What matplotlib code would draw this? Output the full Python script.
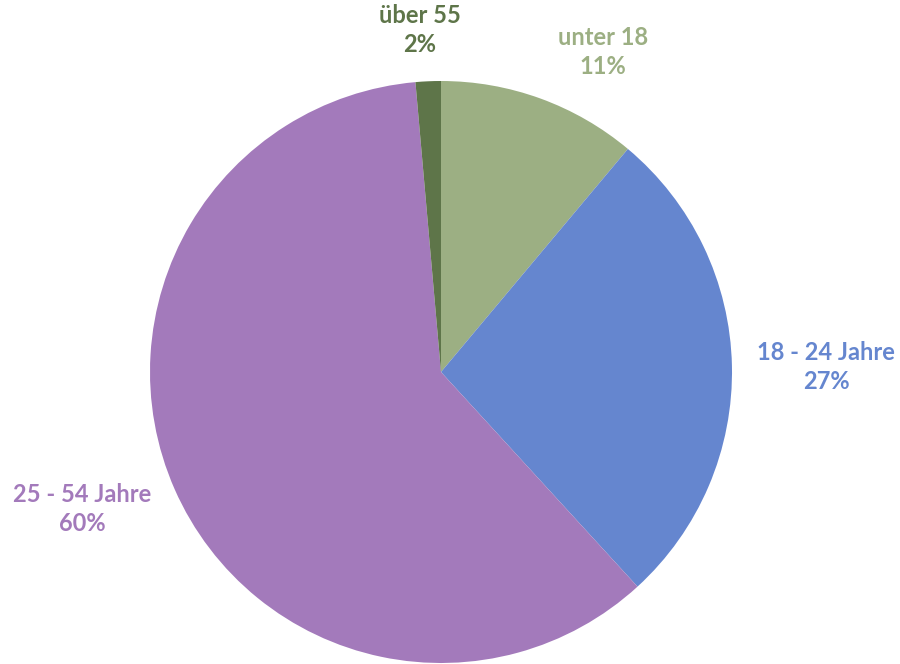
import matplotlib.pyplot as plt

labels = ['unter 18', '18 - 24 Jahre', '25 - 54 Jahre', 'über 55']
values = [11.1, 27.1, 60.4, 1.4]
shown = ['11%', '27%', '60%', '2%']
colors = ['#9CAF83', '#6586CF', '#A37ABB', '#5E7549']

# label anchor points in pixel coordinates (y from bottom)
label_pos = [(603, 612), (826, 297), (82, 155), (420, 634)]

fig = plt.figure(figsize=(9, 6.64), dpi=100, facecolor='white')
ax = fig.add_axes([0, 0, 1, 1])

ax.pie(values, colors=colors, startangle=90, counterclock=False,
       center=(441, 292), radius=291, frame=True,
       wedgeprops={'linewidth': 0})
ax.set_xlim(0, 900)
ax.set_ylim(0, 664)
ax.set_aspect('equal')
ax.axis('off')

for lab, pct, col, (x, y) in zip(labels, shown, colors, label_pos):
    ax.text(x, y, lab + '\n' + pct, color=col, ha='center', va='center',
            fontsize=17, fontweight='bold', family=['Lato', 'DejaVu Sans'],
            linespacing=1.3)

fig.savefig('out.png', dpi=100)
